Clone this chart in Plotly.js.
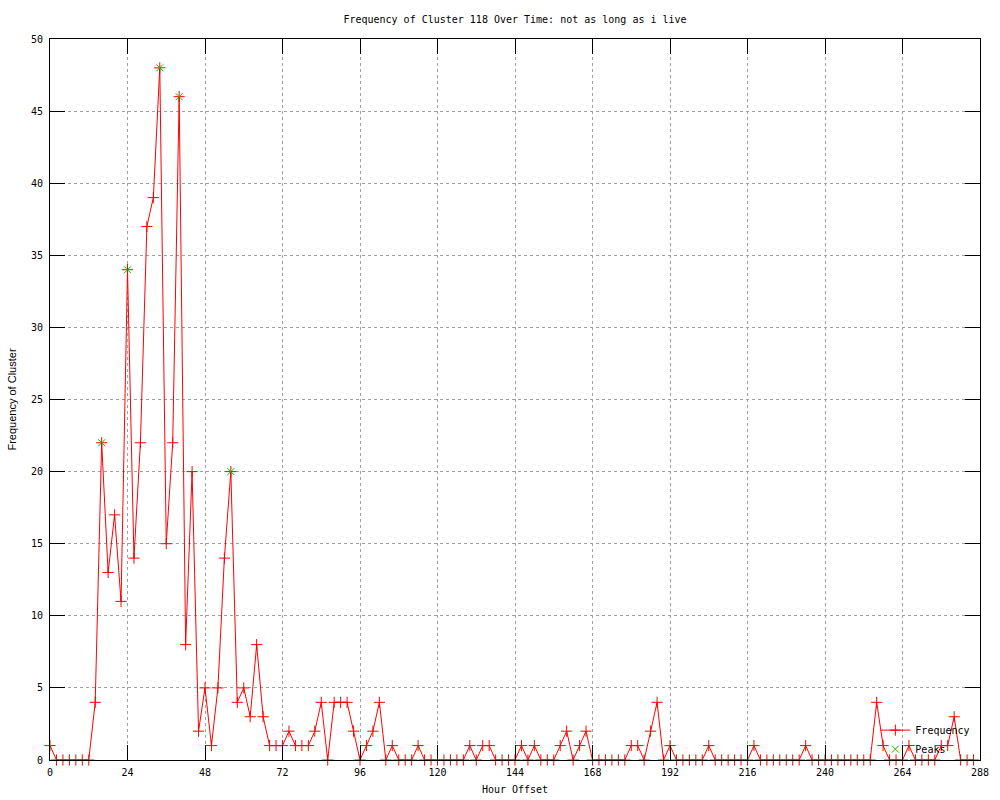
<!DOCTYPE html>
<html>
<head>
<meta charset="utf-8">
<script src="https://cdn.plot.ly/plotly-3.0.1.min.js"></script>
<style>html,body{margin:0;padding:0;background:#fff;}#chart{width:1000px;height:800px;}</style>
</head>
<body>
<div id="chart"></div>
<script>
// Hour offsets (every 2 hours)
const hours = [
  0,2,4,6,8,10,12,14,16,18,20,22,24,26,28,30,32,34,36,38,40,42,44,46,48,
  50,52,54,56,58,60,62,64,66,68,70,72,74,76,78,80,82,84,86,88,90,92,94,96,
  98,100,102,104,106,108,110,112,114,116,118,120,122,124,126,128,130,132,134,136,138,
  140,142,144,146,148,150,152,154,156,158,160,162,164,166,168,170,172,174,176,178,
  180,182,184,186,188,190,192,194,196,198,200,202,204,206,208,210,212,214,216,218,
  220,222,224,226,228,230,232,234,236,238,240,242,244,246,248,250,252,254,256,258,
  260,262,264,266,268,270,272,274,276,278,280,282,284,286
];
const frequency = [
  1,0,0,0,0,0,0,4,22,13,17,11,34,14,22,37,39,48,15,22,46,8,20,2,5,
  1,5,14,20,4,5,3,8,3,1,1,1,2,1,1,1,2,4,0,4,4,4,2,0,
  1,2,4,0,1,0,0,0,1,0,0,0,0,0,0,0,1,0,1,1,0,
  0,0,0,1,0,1,0,0,0,1,2,0,1,2,0,0,0,0,0,0,
  1,1,0,2,4,0,1,0,0,0,0,0,1,0,0,0,0,0,0,1,
  0,0,0,0,0,0,0,1,0,0,0,0,0,0,0,0,0,0,4,1,
  0,0,0,1,0,0,0,0,1,1,3,0,0,0
];
const peakHours = [16, 24, 34, 40, 56];
const peakValues = [22, 34, 48, 46, 20];

const xTicks = [0,24,48,72,96,120,144,168,192,216,240,264,288];
const yTicks = [0,5,10,15,20,25,30,35,40,45,50];

const mono = "DejaVu Sans Mono, monospace";

const traces = [
  {
    x: hours, y: frequency, name: "Frequency", type: "scatter", mode: "lines+markers",
    line: {color: "#ff0000", width: 1},
    marker: {symbol: "cross-thin-open", size: 8, color: "#ff0000", line: {color: "#ff0000", width: 1}},
    cliponaxis: false
  },
  {
    x: peakHours, y: peakValues, name: "Peaks", type: "scatter", mode: "markers",
    marker: {symbol: "x-thin-open", size: 7, color: "#00c000", line: {color: "#00c000", width: 1}},
    cliponaxis: false
  }
];

const axisCommon = {
  showline: true, linecolor: "#000", linewidth: 1, mirror: "ticks",
  ticks: "inside", ticklen: 15, tickwidth: 1, tickcolor: "#000",
  showgrid: true, gridcolor: "#a0a0a0", griddash: "dot", gridwidth: 1,
  zeroline: false, tickfont: {family: mono, size: 10, color: "#000"}
};

const layout = {
  width: 1000, height: 800,
  paper_bgcolor: "#fff", plot_bgcolor: "#fff",
  margin: {l: 50, r: 20, t: 39, b: 40},
  title: {text: "Frequency of Cluster 118 Over Time: not as long as i live",
          font: {family: mono, size: 10, color: "#000"},
          x: 0.515, xanchor: "center", y: 1 - 19/800, yanchor: "middle"},
  xaxis: Object.assign({}, axisCommon, {
    range: [0, 288], tickmode: "array", tickvals: xTicks, ticktext: xTicks.map(String),
    ticklabelstandoff: 3,
    title: {text: "Hour Offset", font: {family: mono, size: 10, color: "#000"}, standoff: 8}
  }),
  yaxis: Object.assign({}, axisCommon, {
    range: [0, 50], tickmode: "array", tickvals: yTicks, ticktext: yTicks.map(String),
    ticklabelstandoff: 4,
    title: {text: "Frequency of Cluster", font: {family: "Liberation Sans, Arial, sans-serif", size: 11, color: "#000"}, standoff: 12}
  }),
  showlegend: true,
  legend: {x: 0.995, xanchor: "right", y: -0.005, yanchor: "bottom",
           bgcolor: "rgba(0,0,0,0)", borderwidth: 0,
           font: {family: mono, size: 10, color: "#000"}, tracegroupgap: 0}
};

Plotly.newPlot("chart", traces, layout, {displayModeBar: false, staticPlot: true});
</script>
</body>
</html>
